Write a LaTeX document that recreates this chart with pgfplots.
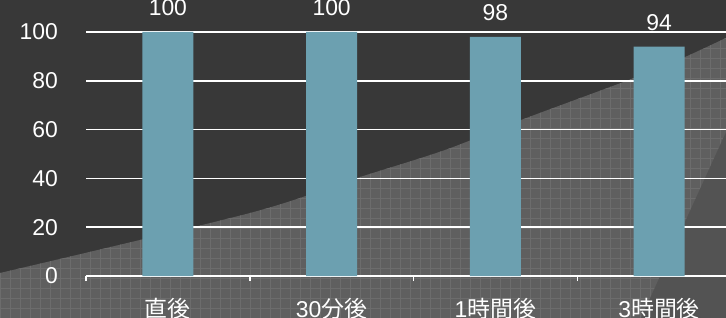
\documentclass[border=0pt]{standalone}
\usepackage{fontspec}
\setmainfont{Liberation Sans}
\newfontfamily\cjk{Noto Sans CJK JP}
\usepackage{pgfplots}
\pgfplotsset{compat=1.18}
\definecolor{bg}{HTML}{383838}
\definecolor{tex}{HTML}{5F5F5F}
\definecolor{texline}{HTML}{6C6C6C}
\definecolor{dk}{HTML}{535353}
\definecolor{barc}{HTML}{6CA0B0}
\begin{document}
\begin{tikzpicture}
\useasboundingbox (0,0) rectangle (726bp,318bp);
\clip (0,0) rectangle (726bp,318bp);
\begin{scope}[x=1bp,y=1bp]
\fill[bg] (0,0) rectangle (726,318);
\begin{scope}
\clip plot[smooth] coordinates {(0,45) (250,105) (357,140) (445,168) (521,198) (634,240) (685,261) (730,282)} -- (730,0) -- (0,0) -- cycle;
\fill[tex] (0,0) rectangle (730,320);
\draw[texline, line width=0.7bp] (0,0) grid[step=10] (730,320);
\end{scope}
\fill[dk] (727,188) -- (641,0) -- (730,0) -- cycle;
\end{scope}
\begin{axis}[
  width=655bp, height=244bp, scale only axis,
  at={(86bp,42bp)}, anchor=south west,
  xmin=-0.5, xmax=3.5, ymin=0, ymax=100,
  xtick={0,1,2,3},
  xticklabels={{\cjk 直後},{30\cjk 分後},{1\cjk 時間後},{3\cjk 時間後}},
  minor xtick={-0.5,0.5,1.5,2.5,3.5},
  ytick={0,20,40,60,80,100},
  axis lines*=left, axis line style={-},
  y axis line style={draw=none},
  x axis line style={white,line width=1.5bp},
  major tick length=0pt, minor tick length=5bp, tick align=outside,
  minor tick style={white,line width=1.5bp},
  ymajorgrids, grid style={white,line width=1.5bp},
  tick label style={font=\fontsize{23}{27}\selectfont, text=white},
  yticklabel style={inner sep=0pt, anchor=east, xshift=-28bp},
  xticklabel style={inner sep=0pt, anchor=base, yshift=-41bp},
  /pgf/number format/assume math mode=true,
  ybar, bar width=51bp,
  nodes near coords,
  nodes near coords style={font=\fontsize{23}{27}\selectfont, text=white, anchor=base, inner sep=0pt, yshift=16bp},
  clip=false,
]
\addplot[fill=barc, draw=none] coordinates {(0,100) (1,100) (2,98) (3,94)};
\end{axis}
\end{tikzpicture}
\end{document}
